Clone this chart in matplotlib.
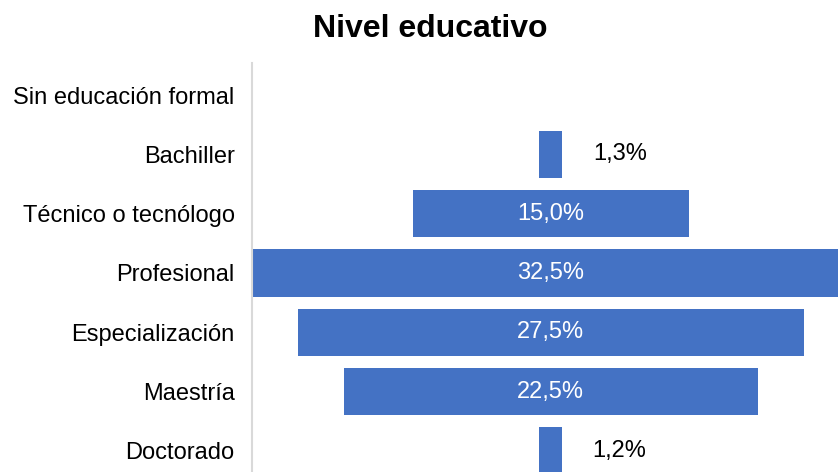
import matplotlib
matplotlib.use("Agg")
import matplotlib.pyplot as plt

categories = ["Sin educación formal", "Bachiller", "Técnico o tecnólogo", "Profesional",
              "Especialización", "Maestría", "Doctorado"]
values = [0.0, 1.3, 15.0, 32.5, 27.5, 22.5, 1.2]
labels = ["", "1,3%", "15,0%", "32,5%", "27,5%", "22,5%", "1,2%"]

plt.rcParams['font.family'] = ['Liberation Sans', 'DejaVu Sans']

W, H = 838, 472
fig = plt.figure(figsize=(W/100, H/100), dpi=100)
left, right, top, bottom = 252, 838, 63, 472
ax = fig.add_axes([left/W, 1-bottom/H, (right-left)/W, (bottom-top)/H])

ys = list(range(len(categories)))
lefts = [-v/2 for v in values]
ax.barh(ys, values, left=lefts, height=0.8, color="#4472C4")
scale = 18.4
center = 550.5
ax.set_xlim((left-center)/scale, (right-center)/scale)
ax.set_ylim(6.355, -0.54)

for y, v, lab in zip(ys, values, labels):
    if not lab:
        continue
    if v > 5:
        ax.text(0, y, lab, ha="center", va="center", color="white", fontsize=17)
    else:
        ax.annotate(lab, (v/2, y), xytext=(31, 0), textcoords="offset pixels",
                    ha="left", va="center", color="black", fontsize=17)

ax.set_yticks(ys)
ax.set_yticklabels(categories, fontsize=17)
ax.tick_params(axis="y", length=0, pad=12.5)
ax.set_xticks([])
for s in ["top", "right", "bottom"]:
    ax.spines[s].set_visible(False)
ax.spines["left"].set_color("#D9D9D9")
ax.spines["left"].set_linewidth(1.5)

fig.text(430/W, 1-29/H, "Nivel educativo", ha="center", va="center", fontsize=23, fontweight="bold")

fig.savefig("out.png", dpi=100)
